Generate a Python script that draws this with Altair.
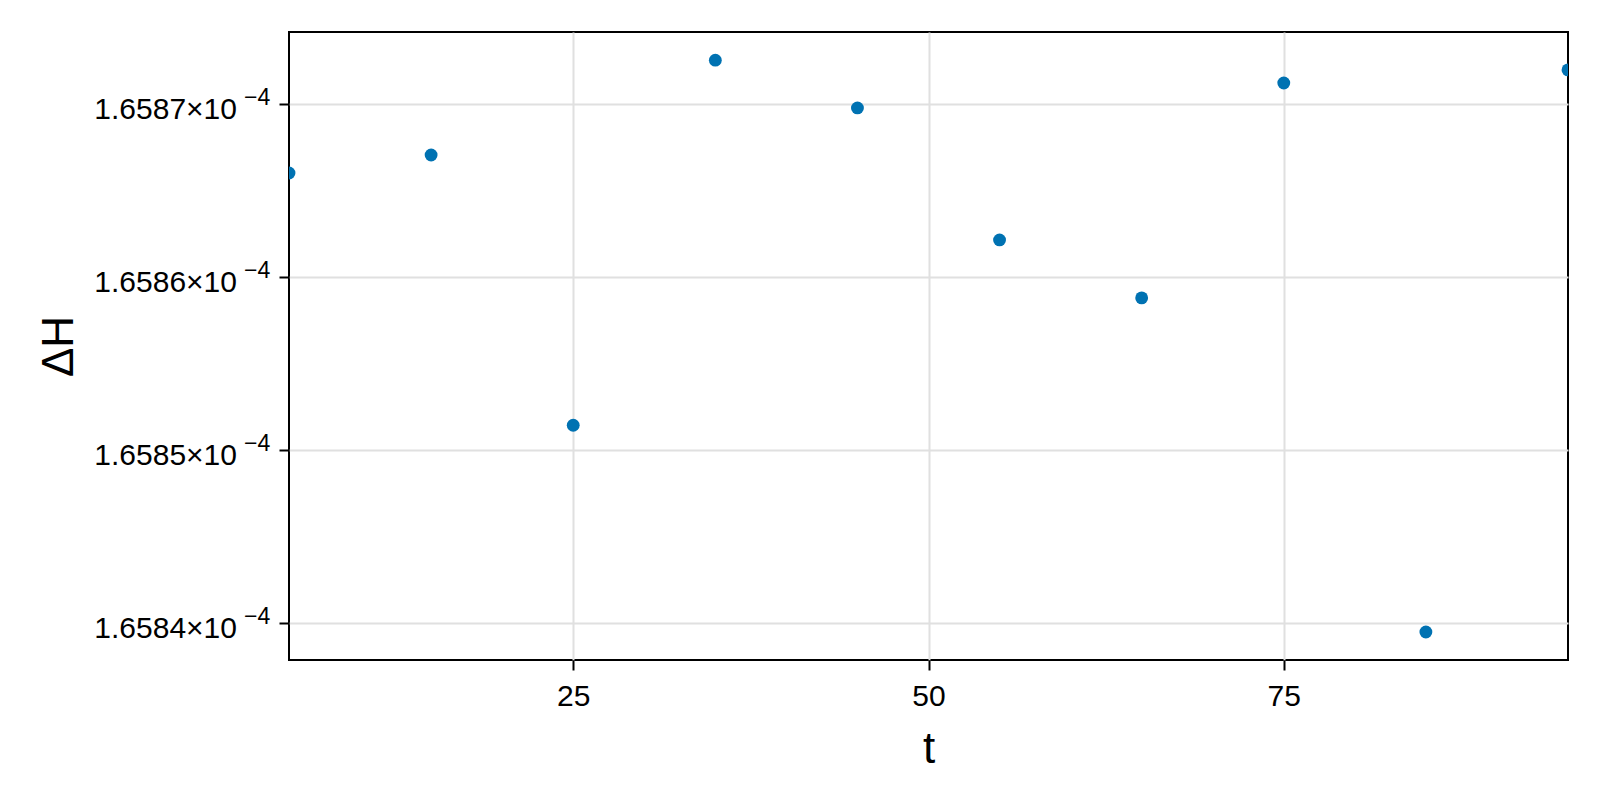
import altair as alt
import pandas as pd

t_values = [5, 15, 25, 35, 45, 55, 65, 75, 85, 95]
delta_h = [1.6586601e-4, 1.6586705e-4, 1.6585143e-4, 1.6587253e-4, 1.6586977e-4,
           1.6586214e-4, 1.6585879e-4, 1.6587121e-4, 1.6583948e-4, 1.6587197e-4]
x_ticks = [25, 50, 75]
y_ticks = [1.6584e-4, 1.6585e-4, 1.6586e-4, 1.6587e-4]
y_tick_mantissa = ["1.6584", "1.6585", "1.6586", "1.6587"]
y_tick_exponent = "\u22124"
x_domain = [5, 95]
y_domain = [1.6583786e-4, 1.6587416e-4]

df = pd.DataFrame({"t": t_values, "dH": delta_h})
tick_df = pd.DataFrame({
    "dH": y_ticks,
    "main": [m + "\u00d710" for m in y_tick_mantissa],
    "sup": [y_tick_exponent] * len(y_ticks),
})

FONT = "Liberation Sans"
W, H = 1279, 628

common_axis = dict(
    domain=False,
    grid=True,
    gridColor="#e0e0e0",
    gridWidth=2,
    ticks=True,
    tickColor="black",
    tickWidth=2,
    tickSize=10,
    labelFont=FONT,
    labelFontSize=30,
    labelColor="black",
    labelPadding=11,
    titleFont=FONT,
    titleFontSize=44,
    titleFontWeight="normal",
    titleColor="black",
    titleBaseline="alphabetic",
    titleAlign="center",
)

x_scale = alt.Scale(domain=x_domain, nice=False, zero=False)
y_scale = alt.Scale(domain=y_domain, nice=False, zero=False)

x_axis = alt.Axis(values=x_ticks, title="t", titleX=W / 2, titleY=102,
                  labelFlush=False, **common_axis)
y_axis = alt.Axis(
    values=y_ticks,
    title="ΔH",
    titleAngle=270,
    titleX=-217,
    titleY=H / 2,
    labels=False,
    **common_axis,
)

points = alt.Chart(df).mark_circle(
    size=165, color="#0072B2", opacity=1, clip=True
).encode(
    x=alt.X("t:Q", scale=x_scale, axis=x_axis),
    y=alt.Y("dH:Q", scale=y_scale, axis=y_axis, title="ΔH"),
)

main_labels = alt.Chart(tick_df).mark_text(
    align="right", baseline="alphabetic", font=FONT, fontSize=30,
    color="black", dy=15,
).encode(
    x=alt.value(-52),
    y=alt.Y("dH:Q", scale=y_scale, axis=y_axis, title="ΔH"),
    text="main:N",
)

sup_labels = alt.Chart(tick_df).mark_text(
    align="left", baseline="alphabetic", font=FONT, fontSize=23,
    color="black", dy=1,
).encode(
    x=alt.value(-45),
    y=alt.Y("dH:Q", scale=y_scale, axis=y_axis, title="ΔH"),
    text="sup:N",
)

chart = alt.layer(points, main_labels, sup_labels).properties(
    width=W,
    height=H,
    background="white",
    autosize=alt.AutoSizeParams(type="none"),
    padding={"left": 281, "top": 24, "right": 24, "bottom": 130},
).configure_view(
    stroke="black", strokeWidth=2
)

chart.save("out.html", embed_options={"renderer": "svg", "actions": False})
